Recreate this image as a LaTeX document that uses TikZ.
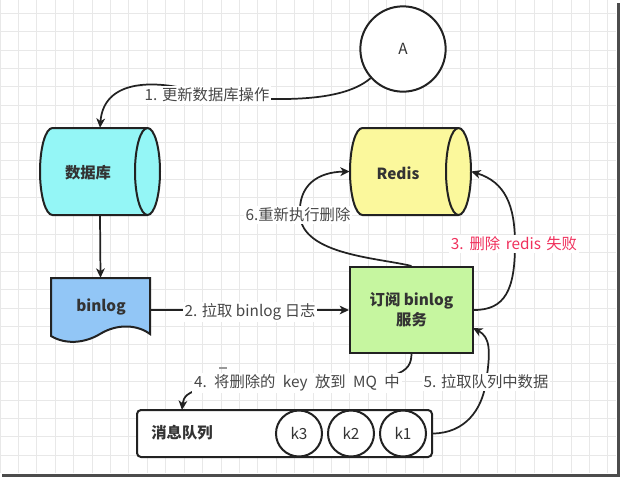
\documentclass[tikz,border=0pt]{standalone}
\usepackage{fontspec}
\setmainfont{Noto Sans CJK SC}
\usetikzlibrary{arrows.meta}
\definecolor{dbcyan}{HTML}{94F6F6}
\definecolor{rdyellow}{HTML}{FBF89C}
\definecolor{blblue}{HTML}{92C6F6}
\definecolor{subgreen}{HTML}{C6F6A0}
\definecolor{warnred}{HTML}{F0305C}
\definecolor{gridc}{HTML}{E8E8E8}
\definecolor{linec}{HTML}{222222}
\definecolor{txtc}{HTML}{333333}
\begin{document}
\begin{tikzpicture}[x=0.75pt,y=-0.75pt,
  outl/.style={draw=linec, line width=1.5pt},
  conn/.style={draw=linec, line width=1.3pt, -{Stealth[length=7pt,width=6.5pt,inset=2pt]}},
  elab/.style={fill=white, inner sep=1.5pt, text=txtc!90, font=\fontsize{11.5pt}{13pt}\selectfont},
  nlab/.style={text=txtc, font=\fontsize{11.5pt}{15pt}\selectfont\bfseries},
  klab/.style={text=txtc, font=\fontsize{11.5pt}{13pt}\selectfont},
  kcirc/.style={circle, outl, fill=white, minimum size=34.5pt, inner sep=0pt, klab}
]
\useasboundingbox (0,0) rectangle (621,480);
\fill[white] (0,0) rectangle (621,480);
% grid
\foreach \i in {0,...,33} \draw[gridc, line width=0.75pt] (\i*18.42,0) -- (\i*18.42,473);
\foreach \j in {0,...,24} \draw[gridc, line width=0.75pt] (0,13.3+\j*18.42) -- (616,13.3+\j*18.42);
% frame shadow
\fill[black!70] (617,3) rectangle (620,477);
\fill[black!70] (2,473.5) rectangle (620,477);

% circle A
\node[circle, outl, fill=white, minimum size=64pt, inner sep=0pt, klab] (A) at (403,49) {A};

% database cylinder
\node[minimum width=90pt, minimum height=65.25pt, inner sep=0pt] (db) at (100,171.5) {};
\path[outl, fill=dbcyan] (52.5,128) -- (147.5,128) arc[start angle=-90, end angle=90, x radius=12.5, y radius=43.5] -- (52.5,215) arc[start angle=90, end angle=270, x radius=12.5, y radius=43.5] -- cycle;
\draw[outl] (147.5,128) arc[start angle=270, end angle=90, x radius=12.5, y radius=43.5];
\node[nlab] (dbt) at (88,173) {数据库};

% redis cylinder
\node[minimum width=90.75pt, minimum height=65.25pt, inner sep=0pt] (rd) at (410.5,171.5) {};
\path[outl, fill=rdyellow] (362.5,128) -- (458.5,128) arc[start angle=-90, end angle=90, x radius=12.5, y radius=43.5] -- (362.5,215) arc[start angle=90, end angle=270, x radius=12.5, y radius=43.5] -- cycle;
\draw[outl] (458.5,128) arc[start angle=270, end angle=90, x radius=12.5, y radius=43.5];
\node[nlab] (rdt) at (398,173) {Redis};

% binlog document
\node[minimum width=74.25pt, minimum height=42.75pt, inner sep=0pt] (bl) at (100.5,306.5) {};
\path[outl, fill=blblue] (51,278) -- (150,278) -- (150,334) .. controls (138,325) and (118,323) .. (100,334) .. controls (85,343) and (66,345) .. (51,336) -- cycle;
\node[nlab] (blt) at (101,307) {binlog};

% subscriber box
\node[outl, fill=subgreen, minimum width=92.25pt, minimum height=64.5pt, inner sep=0pt, align=center, nlab] (sub) at (411.5,310) {订阅 binlog\\服务};

% message queue
\node[outl, fill=white, rounded corners=3pt, minimum width=221.25pt, minimum height=35.25pt, inner sep=0pt] (mq) at (284.5,433.5) {};
\node[nlab] (mqt) at (182,433) {消息队列};
\node[kcirc] (k3) at (299,433.5) {k3};
\node[kcirc] (k2) at (351,433.5) {k2};
\node[kcirc] (k1) at (403,433.5) {k1};
\coordinate (q4) at (182,410);
\coordinate (s5) at (473,328);

% small mark
\draw[black!40, line width=0.8pt] (219,368) -- (227,368);

% edge 1
\draw[conn] (A.222) .. controls (345,100) and (290,103) .. (207,95) .. controls (165,80) and (104,75) .. (db.north);
\node[elab] (l1) at (207,95) {1. 更新数据库操作};

% db -> binlog
\draw[conn] (db.south) -- (bl.north);

% edge 2
\draw[conn] (sub.west -| bl.east) -- (sub.west);
\node[elab] (l2) at (250,312) {2. 拉取 binlog 日志};

% edge 3
\draw[conn] (sub.east) .. controls (505,310) and (515,290) .. (515,244) .. controls (515,205) and (505,182) .. (rd.east);
\node[elab, text=warnred] (l3) at (514,244) {3.\hspace{1pt} 删除\hspace{1.5pt} redis\hspace{1.5pt} 失败};

% edge 6
\draw[conn] (sub.north) .. controls (380,258) and (302,255) .. (300,215) .. controls (298,185) and (318,172) .. (rd.west);
\node[elab] (l6) at (298,215) {6.重新执行删除};

% edge 4
\draw[conn] (sub.south) .. controls (411,372) and (402,383) .. (297,383) .. controls (200,383) and (184,390) .. (q4);
\node[elab] (l4) at (297,383) {4.\hspace{2pt} 将删除的\hspace{3pt} key\hspace{3pt} 放到\hspace{3pt} MQ\hspace{3pt} 中};

% edge 5
\draw[conn] (mq.east) .. controls (465,433) and (482,410) .. (486,382) .. controls (491,350) and (490,337) .. (s5);
\node[elab] (l5) at (486,382) {5. 拉取队列中数据};
\end{tikzpicture}
\end{document}
